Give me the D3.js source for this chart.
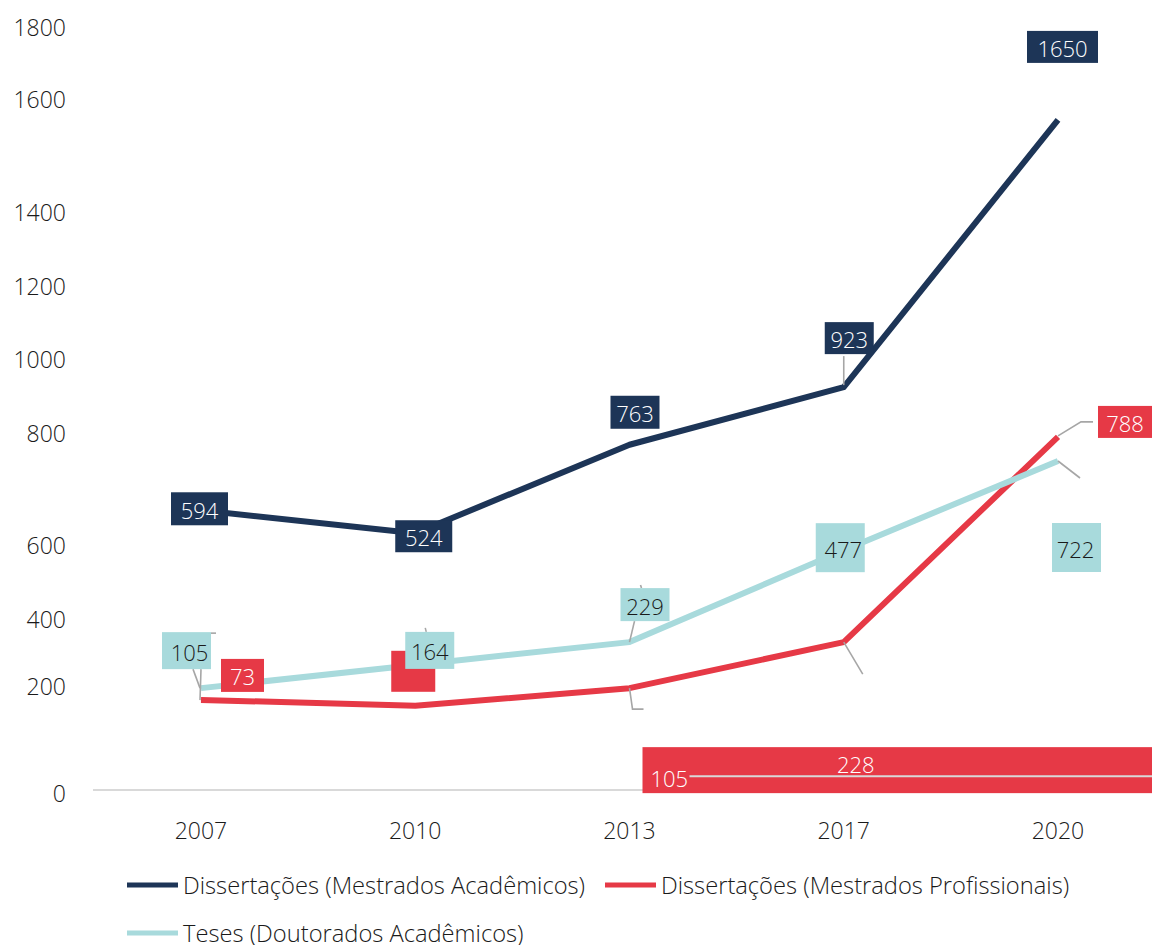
<!DOCTYPE html>
<html>
<head>
<meta charset="utf-8">
<script src="https://cdn.jsdelivr.net/npm/d3@7"></script>
<style>
  html, body { margin: 0; padding: 0; background: #fff; }
  svg { display: block; font-family: "Open Sans", "Noto Sans", sans-serif; }
</style>
</head>
<body>
<svg id="chart" width="1152" height="945"></svg>
<script>
// ---- data ----
const years = ["2007", "2010", "2013", "2017", "2020"];
const yTicks = [0, 200, 400, 600, 800, 1000, 1200, 1400, 1600, 1800];
// plotted positions (on the chart's own axis)
const academicMasters = [662, 621, 779, 924, 1563];
const professionalMasters = [174, 163, 196, 331, 793];
const doctorates = [196, 263, 331, 586, 750];
// data-label texts shown in the picture
const academicMastersLabels = ["594", "524", "763", "923", "1650"];
const professionalMastersLabels = ["73", "", "105", "228", "788"];
const doctoratesLabels = ["105", "164", "229", "477", "722"];
const seriesNames = [
  "Dissertações (Mestrados Acadêmicos)",
  "Dissertações (Mestrados Profissionais)",
  "Teses (Doutorados Acadêmicos)"
];

// ---- styles / layout ----
const NAVY = "#1d3557", RED = "#e63946", TEAL = "#a8dadc";
const LEADER = "#a6a6a6", AXIS = "#d9d9d9", TXT = "#1a1a1a";
const FS = 23;

const svg = d3.select("#chart");
const x = d3.scalePoint().domain(years).range([201, 1058]);
// the source chart's value axis has uneven tick spacing
const y = d3.scaleLinear().domain(yTicks)
  .range([793, 686, 619, 545, 433, 359, 286, 212, 99, 27]);

// y tick labels
svg.append("g").selectAll("text").data(yTicks).join("text")
  .attr("x", 66).attr("y", d => y(d))
  .attr("text-anchor", "end").attr("dominant-baseline", "central")
  .attr("font-size", FS).attr("font-weight", 300).attr("fill", TXT)
  .text(d => d);

// x axis line
svg.append("line")
  .attr("x1", 93).attr("x2", 1152).attr("y1", y(0) - 3).attr("y2", y(0) - 3)
  .attr("stroke", AXIS).attr("stroke-width", 2);

// x tick labels
svg.append("g").selectAll("text").data(years).join("text")
  .attr("x", d => x(d)).attr("y", 830)
  .attr("text-anchor", "middle").attr("dominant-baseline", "central")
  .attr("font-size", FS).attr("font-weight", 300).attr("fill", TXT)
  .text(d => d);

// lines
const series = [
  { vals: academicMasters, color: NAVY },
  { vals: professionalMasters, color: RED },
  { vals: doctorates, color: TEAL }
];
const line = d3.line().x(d => x(d.year)).y(d => y(d.v));
series.forEach(s => {
  svg.append("path")
    .datum(years.map((yr, i) => ({ year: yr, v: s.vals[i] })))
    .attr("d", line).attr("fill", "none")
    .attr("stroke", s.color).attr("stroke-width", 6)
    .attr("stroke-linejoin", "round");
});

const pt = (vals, i) => [x(years[i]), y(vals[i])];

// leader lines (offsets relative to each point)
function leader(vals, i, offs, color, w) {
  const [px, py] = pt(vals, i);
  svg.append("path")
    .attr("d", d3.line()(offs.map(o => [px + o[0], py + o[1]])))
    .attr("fill", "none").attr("stroke", color || LEADER).attr("stroke-width", w || 1.6);
}
leader(academicMasters, 3, [[0, -31], [0, -2]]);
leader(professionalMasters, 2, [[0, 0], [3, 21], [14, 21]]);
leader(professionalMasters, 3, [[0, 0], [19, 32]]);
leader(professionalMasters, 4, [[0, -1], [23, -15], [35, -15]]);
leader(doctorates, 0, [[-8, -19], [-1, 0]]);
leader(doctorates, 0, [[0, -19], [-1, 12]]);
leader(doctorates, 0, [[10, -55], [15, -55]]);
leader(doctorates, 1, [[10, -37], [11, -33]]);
leader(doctorates, 2, [[11, -57], [12, -54]]);
leader(doctorates, 2, [[5, -21], [0, 0]]);
leader(doctorates, 4, [[0, 0], [22, 17]]);

// data label boxes: [dx, dy, w, h, textDx]
function labels(vals, texts, layout, fill, color) {
  const g = svg.append("g");
  texts.forEach((t, i) => {
    const L = layout[i];
    if (!L) return;
    const [px, py] = pt(vals, i);
    const cx = px + L[0], cy = py + L[1];
    g.append("rect")
      .attr("x", cx - L[2] / 2).attr("y", cy - L[3] / 2)
      .attr("width", L[2]).attr("height", L[3]).attr("fill", fill);
    if (t) g.append("text")
      .attr("x", cx + (L[4] || 0)).attr("y", cy + 1)
      .attr("text-anchor", "middle").attr("dominant-baseline", "central")
      .attr("font-size", FS - 1).attr("font-weight", 300).attr("fill", color)
      .text(t);
  });
}
labels(academicMasters, academicMastersLabels, [
  [-1.5, -1.5, 57, 33], [8.5, 3, 57, 32], [5.5, -32.5, 49, 33],
  [5.5, -49, 49, 32], [4.5, -73, 71, 32]
], NAVY, "#ffffff");

// professional masters: 2013 and 2017 labels collapsed into one wide bar at the bottom
(function () {
  const [px, py] = pt(professionalMasters, 2);
  const [qx] = pt(professionalMasters, 3);
  const left = px + 13, top = py + 59;
  svg.append("rect").attr("x", left).attr("y", top)
    .attr("width", 1152 - left + 20).attr("height", 46).attr("fill", RED);
  svg.append("line").attr("x1", left + 47).attr("x2", 1152)
    .attr("y1", top + 29).attr("y2", top + 29)
    .attr("stroke", AXIS).attr("stroke-width", 2);
  svg.append("text").attr("x", left + 8).attr("y", top + 31)
    .attr("dominant-baseline", "central")
    .attr("font-size", FS - 1).attr("font-weight", 300).attr("fill", "#ffffff")
    .text(professionalMastersLabels[2]);
  svg.append("text").attr("x", qx + 12).attr("y", top + 17)
    .attr("text-anchor", "middle").attr("dominant-baseline", "central")
    .attr("font-size", FS - 1).attr("font-weight", 300).attr("fill", "#ffffff")
    .text(professionalMastersLabels[3]);
})();
labels(professionalMasters, professionalMastersLabels, [
  [41.5, -24.5, 43, 33], [-2, -34.5, 44, 41], null, null, [69, -15, 58, 32, -2]
], RED, "#ffffff");
labels(doctorates, doctoratesLabels, [
  [-14.5, -37.5, 49, 37, 3], [14.5, -14.5, 49, 37], [15.5, -37.5, 49, 33],
  [-3.5, -2.5, 49, 49, 3], [18.5, 86.5, 49, 49, -1]
], TEAL, TXT);

// legend
const legend = [
  { name: seriesNames[0], color: NAVY, x: 127, y: 885 },
  { name: seriesNames[1], color: RED, x: 605, y: 885 },
  { name: seriesNames[2], color: TEAL, x: 127, y: 933 }
];
const lg = svg.append("g").selectAll("g").data(legend).join("g");
lg.append("line")
  .attr("x1", d => d.x).attr("x2", d => d.x + 51)
  .attr("y1", d => d.y).attr("y2", d => d.y)
  .attr("stroke", d => d.color).attr("stroke-width", 5);
lg.append("text")
  .attr("x", d => d.x + 56).attr("y", d => d.y)
  .attr("dominant-baseline", "central")
  .attr("font-size", 23.7).attr("font-weight", 300).attr("fill", TXT)
  .text(d => d.name);
</script>
</body>
</html>
